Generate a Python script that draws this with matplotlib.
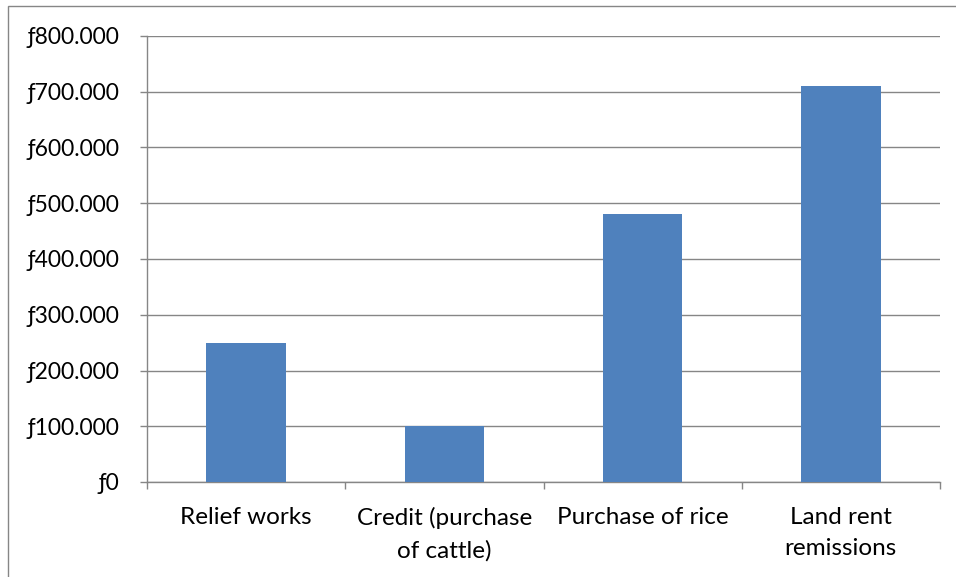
import matplotlib
matplotlib.use("Agg")
import matplotlib.pyplot as plt
from matplotlib.patches import Rectangle
from matplotlib.ticker import FuncFormatter, FixedLocator

categories = ["Relief works", "Credit (purchase\nof cattle)", "Purchase of rice", "Land rent\nremissions"]
values = [250000, 100000, 480000, 710000]
y_ticks = [0, 100000, 200000, 300000, 400000, 500000, 600000, 700000, 800000]

plt.rcParams["font.family"] = ["Lato", "DejaVu Sans"]

W, H = 956, 577
fig = plt.figure(figsize=(W / 100, H / 100), dpi=100)
fig.patch.set_facecolor("white")

grey = "#868686"

# chart-area frame
fig.patches.append(Rectangle((8 / W, -0.05), 2.0, 1 - 6 / H + 0.05,
                             transform=fig.transFigure, fill=False,
                             edgecolor=grey, linewidth=1.0))

left, right = 147 / W, 940 / W
bottom, top = 1 - 482 / H, 1 - 36 / H
ax = fig.add_axes([left, bottom, right - left, top - bottom])

x = list(range(len(categories)))
ax.bar(x, values, width=0.4, color="#4F81BD", zorder=3)

ax.set_xlim(-0.5, len(categories) - 0.5)
ax.set_ylim(0, 800000)

ax.yaxis.set_major_locator(FixedLocator(y_ticks))


def florin(v, pos):
    v = int(round(v))
    if v == 0:
        return "\u01920"
    return "\u0192" + f"{v:,}".replace(",", ".")


ax.yaxis.set_major_formatter(FuncFormatter(florin))
ax.grid(axis="y", color=grey, linewidth=1.0, zorder=0)

ax.set_xticks([i - 0.5 for i in range(len(categories) + 1)])
ax.set_xticklabels([])
ax.set_xticks(x, minor=True)
ax.set_xticklabels(categories, minor=True, ha="center", linespacing=1.6)

ax.tick_params(axis="x", which="major", direction="out", length=5, color=grey, width=1.0)
ax.tick_params(axis="x", which="minor", length=0, pad=18, labelsize=17.5, colors="black")
ax.tick_params(axis="y", direction="out", length=5, color=grey, width=1.0, pad=15, labelsize=16.5)

for s in ("top", "right"):
    ax.spines[s].set_visible(False)
for s in ("left", "bottom"):
    ax.spines[s].set_color(grey)
    ax.spines[s].set_linewidth(1.0)

fig.savefig("out.png", dpi=100, facecolor="white")
